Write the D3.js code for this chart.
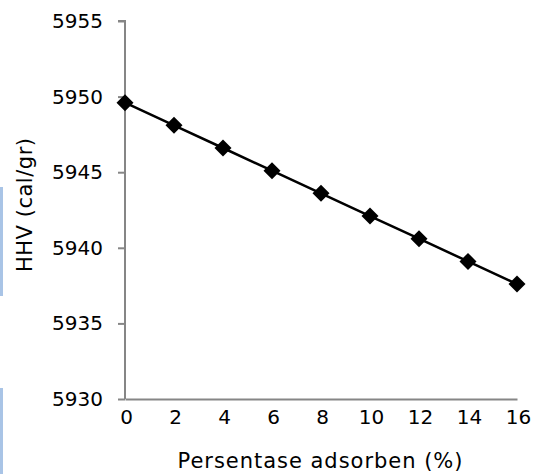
<!DOCTYPE html>
<html>
<head>
<meta charset="utf-8">
<script src="https://cdn.jsdelivr.net/npm/d3@7"></script>
<style>
  body { margin: 0; background: #fff; }
  text { font-family: "DejaVu Sans", Verdana, sans-serif; fill: #000; }
</style>
</head>
<body>
<svg width="538" height="474"></svg>
<script>
// data
var persen = [0, 2, 4, 6, 8, 10, 12, 14, 16];
var hhv = [5949.6, 5948.1, 5946.6, 5945.1, 5943.6, 5942.1, 5940.6, 5939.1, 5937.6];
var xTicks = [0, 2, 4, 6, 8, 10, 12, 14, 16];
var yTicks = [5930, 5935, 5940, 5945, 5950, 5955];

var svg = d3.select("svg"),
  width = +svg.attr("width"),
  height = +svg.attr("height"),
  margin = { top: 21, right: 21, bottom: 75, left: 125 };

// light blue strips on left edge (cropped from source page)
svg.append("rect").attr("x", 0).attr("y", 187).attr("width", 3).attr("height", 109).attr("fill", "#a9c4e6");
svg.append("rect").attr("x", 0).attr("y", 388).attr("width", 3).attr("height", 86).attr("fill", "#a9c4e6");

var x = d3.scaleLinear().domain([0, 16]).range([margin.left, width - margin.right]);
var y = d3.scaleLinear().domain([5930, 5955]).range([height - margin.bottom, margin.top]);

// y axis
var gy = svg.append("g")
  .attr("transform", "translate(" + margin.left + ",0)")
  .call(d3.axisLeft(y).tickValues(yTicks).tickSize(7).tickPadding(15).tickFormat(d3.format("d")));
gy.select(".domain").attr("stroke", "#868686").attr("stroke-width", 2).attr("d", "M-7," + y(5955) + "H0V" + y(5930));
gy.selectAll(".tick line").attr("stroke", "#868686").attr("stroke-width", 2);
gy.selectAll(".tick text").style("font-size", "20px").style("font-family", "DejaVu Sans");

// x axis
var gx = svg.append("g")
  .attr("transform", "translate(0," + (height - margin.bottom) + ")")
  .call(d3.axisBottom(x).tickValues(xTicks).tickSize(0).tickPadding(11));
gx.select(".domain").attr("stroke", "#868686").attr("stroke-width", 2);
gx.selectAll(".tick text").style("font-size", "20px").style("font-family", "DejaVu Sans").attr("x", 1);

// axis titles
svg.append("text")
  .attr("x", 320)
  .attr("y", 468)
  .attr("text-anchor", "middle")
  .style("font-size", "21px")
  .attr("textLength", 285).attr("lengthAdjust", "spacing")
  .text("Persentase adsorben (%)");

svg.append("text")
  .attr("transform", "translate(32,205) rotate(-90)")
  .attr("text-anchor", "middle")
  .style("font-size", "21px")
  .attr("textLength", 134).attr("lengthAdjust", "spacing")
  .text("HHV (cal/gr)");

// line
var pts = persen.map(function(d, i) { return [d, hhv[i]]; });
svg.append("path")
  .datum(pts)
  .attr("fill", "none")
  .attr("stroke", "#000")
  .attr("stroke-width", 2.5)
  .attr("d", d3.line().x(function(d) { return x(d[0]); }).y(function(d) { return y(d[1]); }));

// diamond markers
svg.selectAll(".pt")
  .data(pts)
  .enter().append("path")
  .attr("class", "pt")
  .attr("transform", function(d) { return "translate(" + x(d[0]) + "," + y(d[1]) + ")"; })
  .attr("d", "M0,-8.5L8.5,0L0,8.5L-8.5,0Z")
  .attr("fill", "#000");
</script>
</body>
</html>
